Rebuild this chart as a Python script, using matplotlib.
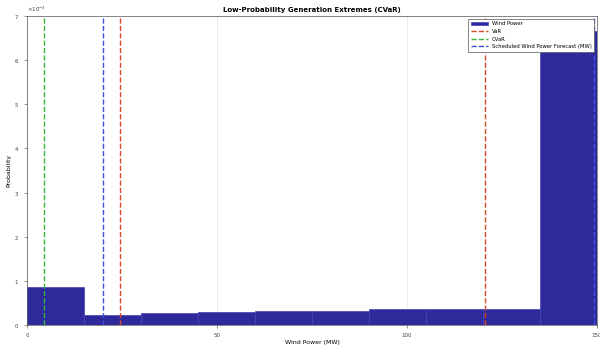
import numpy as np
import matplotlib.pyplot as plt
from matplotlib.ticker import ScalarFormatter

# histogram of wind power (probability per 15 MW bin)
bin_edges = [0, 15, 30, 45, 60, 75, 90, 105, 120, 135, 150]
bin_probs = [0.86e-3, 0.23e-3, 0.28e-3, 0.30e-3, 0.32e-3, 0.32e-3,
             0.37e-3, 0.36e-3, 0.37e-3, 6.66e-3]

var_levels = [24.5, 120.5]
cvar_levels = [4.5]
sched_levels = [20.0, 149.2]

plt.rcParams['font.family'] = 'DejaVu Sans'
fig = plt.figure(figsize=(6, 3.49), dpi=100)
ax = fig.add_axes([0.045, 0.069, 0.95, 0.885])

widths = np.diff(bin_edges)
bars = ax.bar(bin_edges[:-1], bin_probs, width=widths, align='edge',
              color='#2e2a9c', edgecolor='#4540b4', linewidth=0.5, label='Wind Power', zorder=2)

h_var = h_cvar = h_sched = None
for v in var_levels:
    h_var = ax.axvline(v, color='#d9472b', ls='--', lw=1.0, label='VaR', zorder=3)
for v in cvar_levels:
    h_cvar = ax.axvline(v, color='#3cb43c', ls='--', lw=1.0, label='CVaR', zorder=3)
for v in sched_levels:
    h_sched = ax.axvline(v, color='#3b4fd8', ls='--', lw=1.0,
                         label='Scheduled Wind Power Forecast (MW)', zorder=3)

ax.set_xlim(0, 150)
ax.set_ylim(0, 7e-3)
ax.set_xticks([0, 50, 100, 150])
ax.set_yticks(np.arange(0, 8) * 1e-3)
fmt = ScalarFormatter(useMathText=True)
fmt.set_powerlimits((-2, 2))
ax.yaxis.set_major_formatter(fmt)
ax.yaxis.get_offset_text().set_fontsize(4)
ax.tick_params(labelsize=4, length=2, width=0.4, colors='#444444')
ax.grid(True, axis='x', color='#e4e4e4', lw=0.5, zorder=0)
for s in ax.spines.values():
    s.set_linewidth(0.5)
    s.set_color('#555555')

ax.set_title('Low-Probability Generation Extremes (CVaR)', fontsize=5, pad=3, fontweight='bold')
ax.set_xlabel('Wind Power (MW)', fontsize=4.5, labelpad=2)
ax.set_ylabel('Probability', fontsize=4.5, labelpad=2)

leg = ax.legend([bars, h_var, h_cvar, h_sched],
                ['Wind Power', 'VaR', 'CVaR', 'Scheduled Wind Power Forecast (MW)'],
                loc='upper right', fontsize=3.8, frameon=True, fancybox=False,
                edgecolor='#555555', framealpha=1, handlelength=3.2, borderpad=0.5)
leg.get_frame().set_linewidth(0.5)

fig.savefig('out.png', dpi=100)
